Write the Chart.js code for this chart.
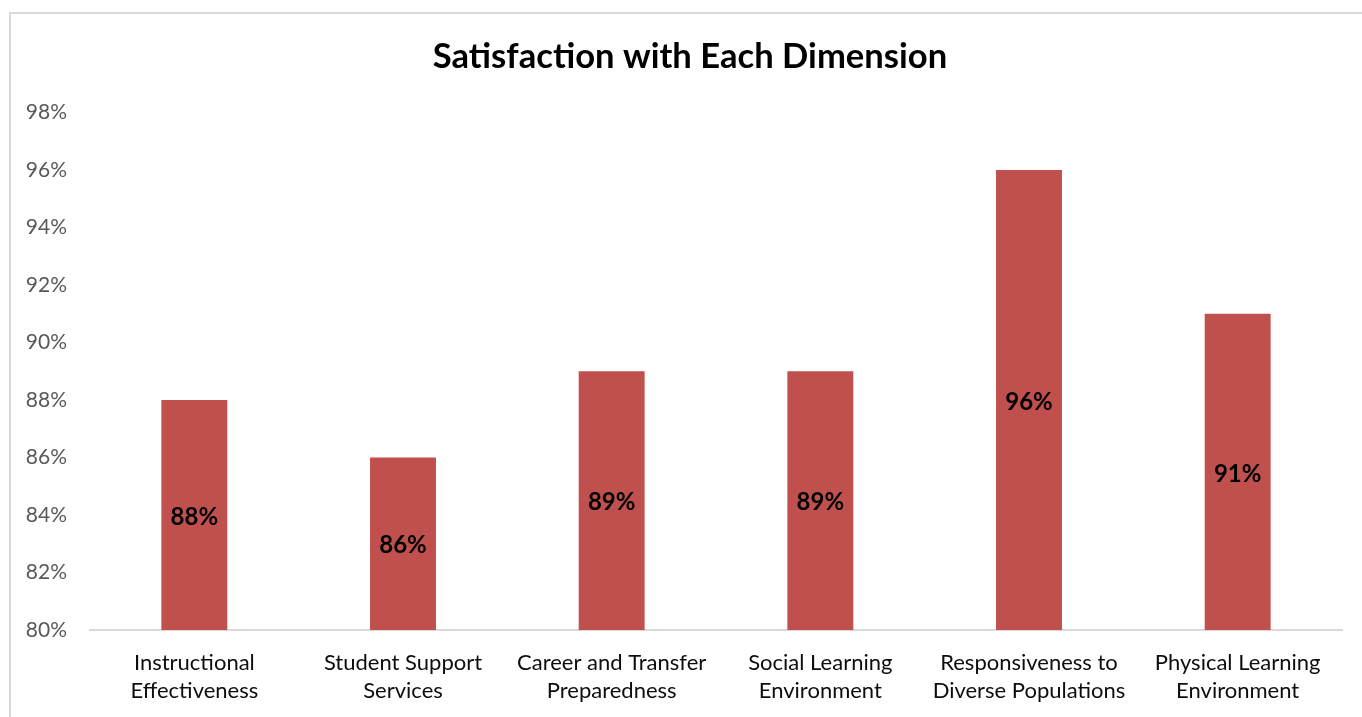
<!DOCTYPE html>
<html>
<head>
<meta charset="utf-8">
<script src="https://cdn.jsdelivr.net/npm/chart.js@4"></script>
<style>
  html, body { margin: 0; padding: 0; background: #fff; overflow: hidden; }
  #frame { position: absolute; left: 9px; top: 12px; width: 1400px; height: 800px; border: 2px solid #d9d9d9; box-sizing: border-box; }
  #wrap { position: absolute; left: 0; top: 0; width: 1362px; height: 717px; }
</style>
</head>
<body>
<div id="frame"></div>
<div id="wrap"><canvas id="c" width="1362" height="717"></canvas></div>
<script>
const categories = [
  ["Instructional", "Effectiveness"],
  ["Student Support", "Services"],
  ["Career and Transfer", "Preparedness"],
  ["Social Learning", "Environment"],
  ["Responsiveness to", "Diverse Populations"],
  ["Physical Learning", "Environment"]
];
const satisfaction = [88, 86, 89, 89, 96, 91];
const yMin = 80, yMax = 98, yStep = 2;
const chartTitle = "Satisfaction with Each Dimension";

const FONT = "Lato, 'Open Sans', sans-serif";

const centerLabels = {
  id: 'centerLabels',
  afterDatasetsDraw(chart) {
    const ctx = chart.ctx;
    const meta = chart.getDatasetMeta(0);
    const yScale = chart.scales.y;
    const bottom = yScale.getPixelForValue(yScale.min);
    ctx.save();
    ctx.font = "bold 24px " + FONT;
    ctx.fillStyle = "#000000";
    ctx.textAlign = "center";
    ctx.textBaseline = "middle";
    meta.data.forEach((bar, i) => {
      const base = Math.min(bar.base, bottom);
      ctx.fillText(satisfaction[i] + "%", bar.x, (bar.y + base) / 2 + 2);
    });
    ctx.restore();
  }
};

new Chart(document.getElementById('c'), {
  type: 'bar',
  data: {
    labels: categories,
    datasets: [{
      data: satisfaction,
      backgroundColor: '#C0504D',
      borderWidth: 0,
      barPercentage: 0.316,
      categoryPercentage: 1.0
    }]
  },
  options: {
    responsive: false,
    animation: false,
    devicePixelRatio: 1,
    layout: { padding: { left: 18, right: 0, top: 0, bottom: 13 } },
    plugins: {
      legend: { display: false },
      tooltip: { enabled: false },
      title: {
        display: true,
        text: chartTitle,
        color: '#000',
        font: { family: FONT, size: 34.6, weight: 'bold', lineHeight: 1.2 },
        padding: { top: 36, bottom: 35 }
      }
    },
    scales: {
      x: {
        grid: { display: false, drawTicks: false },
        border: { display: true, color: '#d9d9d9', width: 2 },
        afterFit(scale) { scale.height = 74; },
        ticks: {
          color: '#0d0d0d',
          font: { family: FONT, size: 22, lineHeight: 1.27 },
          padding: 19,
          maxRotation: 0,
          autoSkip: false
        }
      },
      y: {
        min: yMin,
        max: yMax,
        grid: { display: false, drawTicks: false },
        border: { display: false },
        afterFit(scale) { scale.width = 72; },
        ticks: {
          stepSize: yStep,
          color: '#595959',
          font: { family: FONT, size: 21 },
          padding: 23,
          callback: v => v + '%'
        }
      },
      yRightSpacer: {
        position: 'right',
        min: yMin,
        max: yMax,
        grid: { display: false, drawTicks: false },
        border: { display: false },
        ticks: { display: false },
        afterFit(scale) { scale.width = 20; }
      }
    }
  },
  plugins: [centerLabels]
});
</script>
</body>
</html>
